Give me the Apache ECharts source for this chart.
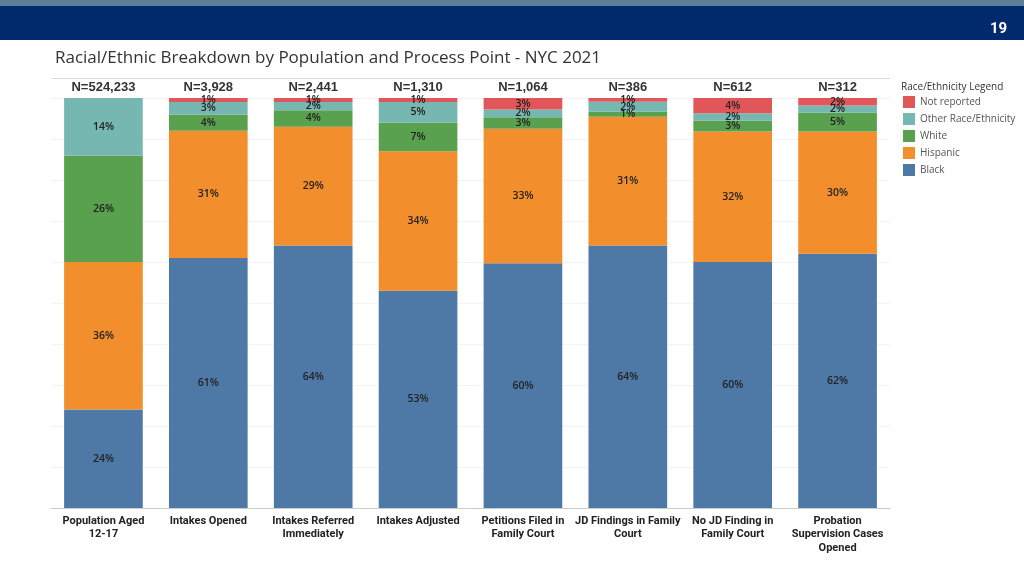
<!DOCTYPE html>
<html>
<head>
<meta charset="utf-8">
<script src="https://cdn.jsdelivr.net/npm/echarts@6/dist/echarts.min.js"></script>
<style>
html,body{margin:0;padding:0;background:#fff;}
#c{width:1024px;height:576px;}
</style>
</head>
<body>
<div id="c"></div>
<script>
const categories = [
  "Population Aged\n12-17",
  "Intakes Opened",
  "Intakes Referred\nImmediately",
  "Intakes Adjusted",
  "Petitions Filed in\nFamily Court",
  "JD Findings in Family\nCourt",
  "No JD Finding in\nFamily Court",
  "Probation\nSupervision Cases\nOpened"
];
const nLabels = ["N=524,233","N=3,928","N=2,441","N=1,310","N=1,064","N=386","N=612","N=312"];

const black      = [24, 61, 64, 53, 59.7, 64.0, 60.0, 62.0];
const hispanic   = [36, 31, 29, 34, 32.8, 31.4, 31.8, 29.8];
const white      = [26, 4, 4, 7, 2.8, 1.3, 2.7, 4.6];
const other      = [14, 3, 2, 5, 1.9, 2.4, 1.8, 1.8];
const notReported= [0, 1, 1, 1, 2.8, 0.9, 3.7, 1.8];

const seriesDefs = [
  {name: "Black", data: black, color: "#4E79A7"},
  {name: "Hispanic", data: hispanic, color: "#F28E2B"},
  {name: "White", data: white, color: "#59A14F"},
  {name: "Other Race/Ethnicity", data: other, color: "#76B7B2"},
  {name: "Not reported", data: notReported, color: "#E15759"}
];

const chart = echarts.init(document.getElementById('c'));
const option = {
  animation: false,
  graphic: [
    {type: 'rect', shape: {x: 0, y: 0, width: 1024, height: 6}, style: {fill: '#5E7E9A'}},
    {type: 'rect', shape: {x: 0, y: 6, width: 1024, height: 34}, style: {fill: '#002A6C'}},
    {type: 'text', left: 990, top: 22, style: {text: '19', fill: '#ffffff', font: 'bold 15px "Roboto", sans-serif'}},
    {type: 'text', left: 55, top: 50, style: {text: 'Racial/Ethnic Breakdown by Population and Process Point - NYC 2021', fill: '#333333', font: '17px "Open Sans", sans-serif'}},
    {type: 'line', shape: {x1: 52, y1: 78.5, x2: 890, y2: 78.5}, style: {stroke: '#d9d9d9', lineWidth: 1}},
    {type: 'text', left: 901, top: 82, style: {text: 'Race/Ethnicity Legend', fill: '#333333', font: '10px "Open Sans", sans-serif'}}
  ],
  legend: {
    orient: 'vertical',
    left: 903,
    top: 96,
    padding: 0,
    itemWidth: 12,
    itemHeight: 12,
    itemGap: 5,
    icon: 'rect',
    data: ["Not reported", "Other Race/Ethnicity", "White", "Hispanic", "Black"],
    textStyle: {fontSize: 10, color: '#555555', fontFamily: 'Open Sans'}
  },
  grid: {left: 51, right: 134, top: 98, bottom: 68},
  xAxis: [
    {
      type: 'category',
      data: categories,
      axisLine: {lineStyle: {color: '#cccccc'}},
      axisTick: {show: false},
      axisLabel: {
        interval: 0,
        color: '#222222',
        fontSize: 11,
        fontWeight: 'bold',
        fontFamily: 'Roboto, sans-serif',
        lineHeight: 13.5,
        margin: 6
      }
    },
    {
      type: 'category',
      position: 'top',
      data: nLabels,
      axisLine: {show: false},
      axisTick: {show: false},
      axisLabel: {
        interval: 0,
        color: '#333333',
        fontSize: 13,
        fontWeight: 'bold',
        fontFamily: '"Liberation Sans", sans-serif',
        margin: 4
      }
    }
  ],
  yAxis: {
    type: 'value',
    min: 0,
    max: 100,
    interval: 10,
    axisLabel: {show: false},
    axisLine: {show: false},
    axisTick: {show: false},
    splitLine: {lineStyle: {color: '#f3f3f3'}}
  },
  series: seriesDefs.map(s => ({
    name: s.name,
    type: 'bar',
    stack: 'total',
    barWidth: '75%',
    data: s.data,
    itemStyle: {color: s.color},
    label: {
      show: true,
      position: 'inside',
      color: '#222222',
      fontSize: 10.5,
      fontWeight: 600,
      fontFamily: '"Open Sans", sans-serif',
      formatter: p => p.value > 0 ? Math.round(p.value) + '%' : ''
    }
  }))
};
chart.setOption(option);
</script>
</body>
</html>
